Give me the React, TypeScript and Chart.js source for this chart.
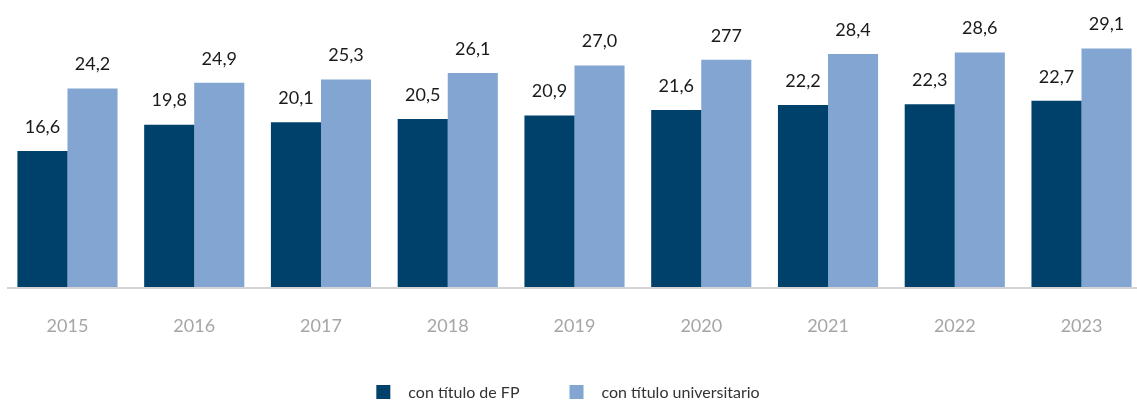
import React, { useEffect, useRef } from "react";
import { Chart, registerables } from "chart.js";

Chart.register(...registerables);

const years = ["2015", "2016", "2017", "2018", "2019", "2020", "2021", "2022", "2023"];
const fpValues = [16.6, 19.8, 20.1, 20.5, 20.9, 21.6, 22.2, 22.3, 22.7];
const uniValues = [24.2, 24.9, 25.3, 26.1, 27.0, 27.7, 28.4, 28.6, 29.1];
const fpLabels = ["16,6", "19,8", "20,1", "20,5", "20,9", "21,6", "22,2", "22,3", "22,7"];
const uniLabels = ["24,2", "24,9", "25,3", "26,1", "27,0", "277", "28,4", "28,6", "29,1"];
const seriesNames = ["con título de FP", "con título universitario"];
const colors = ["#00416b", "#82a5d1"];

const FONT = "Lato, 'Open Sans', sans-serif";

const valueLabelPlugin = {
  id: "valueLabels",
  afterDatasetsDraw(chart: any) {
    const ctx = chart.ctx;
    ctx.save();
    ctx.font = `18px ${FONT}`;
    ctx.fillStyle = "#1a1a1a";
    ctx.textAlign = "center";
    ctx.textBaseline = "middle";
    const labelSets = [fpLabels, uniLabels];
    chart.data.datasets.forEach((_ds: any, di: number) => {
      const meta = chart.getDatasetMeta(di);
      meta.data.forEach((bar: any, i: number) => {
        ctx.fillText(labelSets[di][i], bar.x, bar.y - 24);
      });
    });
    ctx.restore();
  },
};

const axisLinePlugin = {
  id: "axisLine",
  beforeDatasetsDraw(chart: any) {
    const ctx = chart.ctx;
    const y = chart.chartArea.bottom + 1;
    ctx.save();
    ctx.strokeStyle = "#d4d4d4";
    ctx.lineWidth = 2;
    ctx.beginPath();
    ctx.moveTo(7, y);
    ctx.lineTo(1137, y);
    ctx.stroke();
    ctx.restore();
  },
};

const legendPlugin = {
  id: "customLegend",
  afterDraw(chart: any) {
    const ctx = chart.ctx;
    ctx.save();
    ctx.font = `16px ${FONT}`;
    const box = 14;
    const gapText = 18;
    const gapItems = 50;
    const w0 = ctx.measureText(seriesNames[0]).width;
    const w1 = ctx.measureText(seriesNames[1]).width;
    const total = box + gapText + w0 + gapItems + box + gapText + w1;
    let x = 568 - total / 2;
    const cy = 392;
    ctx.textBaseline = "middle";
    ctx.textAlign = "left";
    [w0, w1].forEach((w, i) => {
      ctx.fillStyle = colors[i];
      ctx.fillRect(x, cy - box / 2, box, box);
      x += box + gapText;
      ctx.fillStyle = "#333333";
      ctx.fillText(seriesNames[i], x, cy + 1);
      x += w + gapItems;
    });
    ctx.restore();
  },
};

export default function App() {
  const ref = useRef<HTMLCanvasElement>(null);
  useEffect(() => {
    if (!ref.current) return;
    const chart = new Chart(ref.current, {
      type: "bar",
      data: {
        labels: years,
        datasets: [
          { label: seriesNames[0], data: fpValues, backgroundColor: colors[0], categoryPercentage: 0.79, barPercentage: 1 },
          { label: seriesNames[1], data: uniValues, backgroundColor: colors[1], categoryPercentage: 0.79, barPercentage: 1 },
        ],
      },
      options: {
        animation: false,
        responsive: false,
        maintainAspectRatio: false,
        layout: { padding: { left: 4.1, right: 1.1, top: 0, bottom: 54 } },
        plugins: {
          legend: { display: false },
          tooltip: { enabled: false },
        },
        scales: {
          x: {
            grid: { display: false, drawTicks: false },
            border: { display: false },
            ticks: {
              color: "#a6a6a6",
              font: { family: FONT, size: 18 },
              padding: 28,
              maxRotation: 0,
            },
            afterFit: (scale: any) => {
              scale.height = 60;
            },
          },
          y: {
            display: false,
            min: 0,
            max: 35,
          },
        },
      },
      plugins: [axisLinePlugin, valueLabelPlugin, legendPlugin],
    });
    return () => chart.destroy();
  }, []);
  return (
    <div style={{ position: "fixed", left: 0, top: 0, width: 1146, height: 401, background: "#fff" }}>
      <canvas ref={ref} width={1146} height={401} style={{ display: "block", width: 1146, height: 401 }} />
    </div>
  );
}
